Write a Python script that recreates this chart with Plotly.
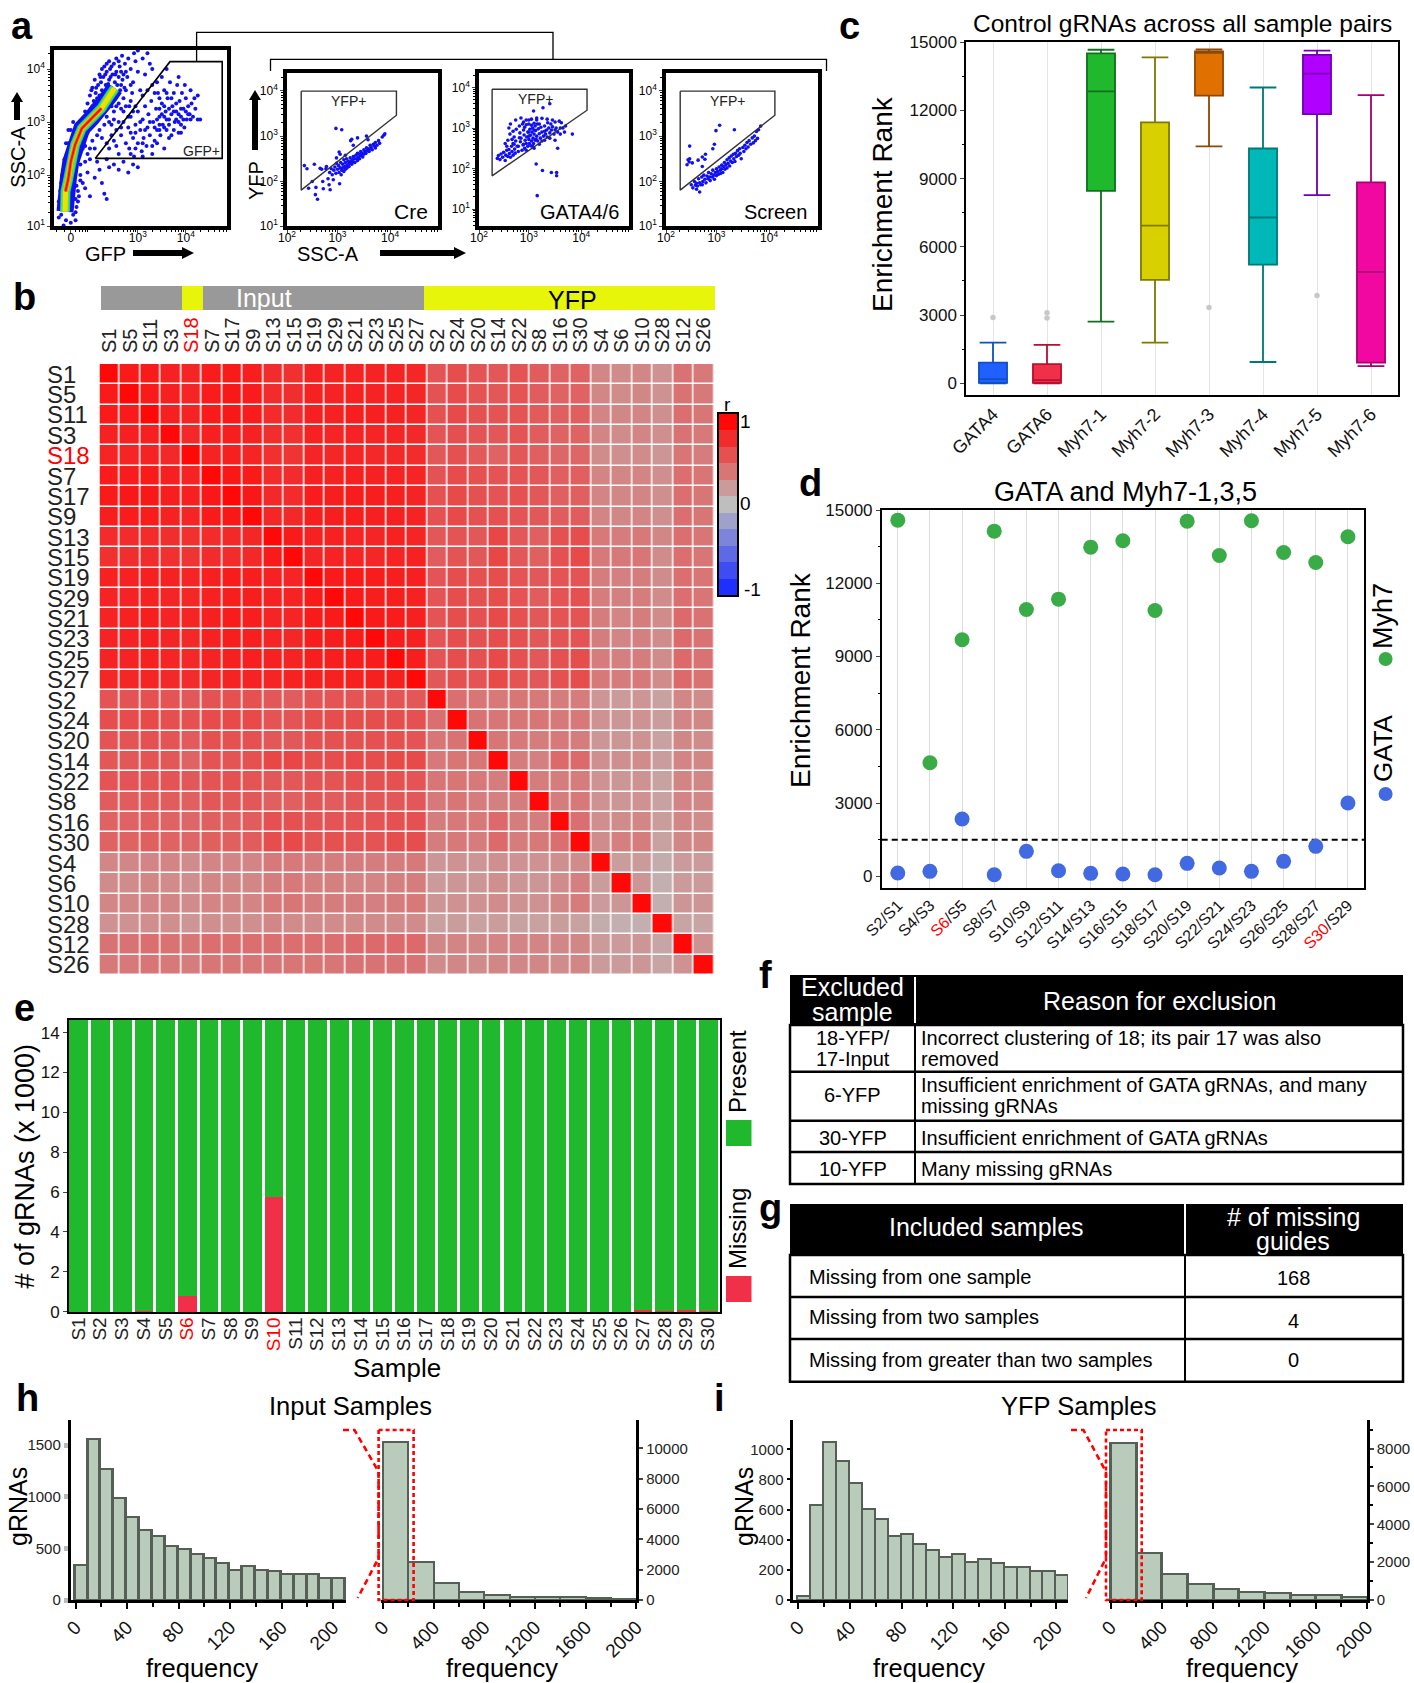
import plotly.graph_objects as go
import math

W, H = 1414, 1683
FONT = "Liberation Sans"

# ---------- panel a : flow gates (axis values are log10) ----------
MAIN_POINTS = [(1.85,3.0),(1.9,3.2),(1.95,3.35),(2.0,3.5),(2.02,3.25),(2.05,3.65),(2.08,3.4),(2.1,3.8),(2.12,3.55),(2.15,3.3),(2.17,3.7),(2.2,3.9),(2.2,3.5),(2.23,3.75),(2.25,4.0),(2.25,3.6),(2.28,3.85),(2.3,4.05),(2.3,3.45),(2.33,3.7),(2.35,3.95),(2.37,3.55),(2.4,4.15),(2.4,3.8),(2.42,4.0),(2.45,3.65),(2.47,3.9),(2.5,4.1),(2.5,3.45),(2.52,3.75),(2.55,4.2),(2.55,3.95),(2.58,3.55),(2.6,3.85),(2.62,4.05),(2.65,3.7),(2.67,4.25),(2.7,3.9),(2.7,3.45),(2.73,4.1),(2.75,3.6),(2.78,3.85),(2.8,4.2),(2.82,3.3),(2.85,4.0),(2.88,3.55),(2.9,3.75),(2.92,4.3),(2.95,4.15),(3.0,3.95),(3.0,4.35),(3.05,3.6),(3.1,4.2),(3.2,4.3),(3.25,4.1),(3.3,4.0),(3.15,3.9),
(2.03,3.6),(2.13,3.65),(2.18,3.42),(2.22,3.85),(2.27,3.5),(2.32,3.9),(2.38,3.72),(2.43,3.85),(2.48,3.6),(2.53,3.9),(2.57,3.7),(2.63,3.6),(2.68,3.8),(2.72,3.65),(2.6,4.15),(2.35,4.1),(2.45,4.05),(2.75,3.95),(2.85,3.7),(2.65,3.95),
(2.6,2.4),(2.65,2.75),(2.7,3.0),(2.75,2.6),(2.8,2.9),(2.82,2.5),(2.85,3.1),(2.9,2.7),(2.92,2.35),(2.95,2.95),(3.0,2.6),(3.0,3.2),(3.05,2.85),(3.08,2.45),(3.1,3.05),(3.12,2.7),(3.15,3.3),(3.18,2.55),(3.2,2.9),(3.22,3.15),(3.25,2.75),(3.28,3.4),(3.3,2.4),(3.32,3.0),(3.35,2.65),(3.38,3.25),(3.4,2.85),(3.42,3.55),(3.45,3.1),(3.47,2.75),(3.5,3.35),(3.52,2.95),(3.55,3.6),(3.55,2.5),(3.58,3.2),(3.6,2.85),(3.62,3.45),(3.65,3.05),(3.67,3.75),(3.7,2.75),(3.72,3.3),(3.75,3.55),(3.77,3.0),(3.8,3.2),(3.82,3.7),(3.85,2.8),(3.87,3.4),(3.9,3.1),(3.92,3.55),(3.95,3.25),(3.97,2.9),(4.0,3.45),(4.02,3.05),(4.05,3.3),(4.08,3.15),(4.1,3.6),(4.12,3.35),(4.15,3.1),(4.18,3.45),(4.2,3.25),(4.25,3.5),(4.3,3.05),(4.25,3.05),(3.6,4.0),(3.85,3.85),(3.98,3.7),
(3.4,3.05),(3.5,3.15),(3.6,3.05),(3.7,3.15),(3.8,3.05),(3.9,2.95),(3.55,2.9),(3.65,2.95),(3.75,2.85),(3.85,3.15),(3.95,3.05),(3.45,2.95),
(2.35,2.3),(2.4,2.15),(2.5,2.2),(2.6,2.1),(2.7,2.25),(2.8,2.05),(2.9,2.2),(3.0,2.15),(3.1,2.35),(2.2,2.1),(2.15,2.25),(2.1,1.95),(2.25,1.85),(2.3,1.65),(2.35,1.55),(2.0,2.3),(1.95,2.05),(1.85,1.85),(1.9,1.75),(2.0,1.6),
(1.35,1.2),(1.4,1.45),(1.38,1.7),(1.42,2.0),(1.47,2.3),(1.5,2.6),(1.55,2.85),(1.45,1.05),(1.6,1.1),(1.7,1.15),(1.75,1.5),(1.72,1.8),(1.8,2.2),(1.85,2.5),(1.75,2.9),(1.65,3.0),(1.7,1.3),(1.6,1.55),
(1.95,3.1),(2.0,3.2),(2.05,3.3),(2.1,3.2),(2.15,3.45),(2.2,3.25),(2.25,3.35),(2.3,3.3),(2.35,3.4),(2.4,3.35),(2.45,3.3),(2.5,3.2),(2.55,3.3),(2.6,3.35),(2.65,3.25),(2.7,3.2),(2.75,3.3),(2.8,3.1),(2.85,3.4),(2.9,3.2),(2.95,3.3),(2.35,3.1),(2.4,3.0),(2.45,2.95),(2.5,3.05),(2.55,2.85),(2.6,3.0),(2.65,2.9),(2.3,2.95),(2.2,2.85),(2.15,2.75),(2.05,2.65),(2.0,2.5),(1.95,2.4),(2.25,2.7),(2.35,2.6),(2.4,2.5),(2.5,2.65),(2.55,2.55),(2.45,2.75),(2.1,2.5),(1.9,2.25),(1.8,2.0),(1.75,1.7),(1.7,1.55),(1.9,2.55),(1.95,2.8),(1.85,2.75),(1.6,2.85),(1.55,2.6),(1.45,2.1),(1.4,1.85),(1.35,1.5),(1.4,1.25),(1.5,1.15),(1.65,1.25),(1.72,1.4),(1.77,1.6),(1.8,1.9),
(3.1,3.5),(3.2,3.6),(3.3,3.7),(3.35,3.55),(3.4,3.75),(3.5,3.85),(3.45,3.45),(3.55,3.3),(3.6,3.55),(3.7,3.45),(3.8,3.35),(3.9,3.25),(4.0,3.2),(4.05,3.15),(4.1,3.05),(3.85,3.0),(3.75,3.2),(3.65,3.25),(3.55,3.1),(3.45,3.25),(3.25,3.0),(3.15,2.85),(3.05,3.0),(2.95,2.8),(2.85,2.8),(3.35,2.9),(3.45,2.85),(3.65,2.7),(3.9,2.8),(3.3,2.55),(3.4,2.6),(2.95,2.5),(2.85,2.4),(3.1,2.6)]
RIDGE_U = [1.48, 1.49, 1.55, 1.60, 1.69, 1.83, 2.03, 2.24, 2.42, 2.52]
RIDGE_V = [1.31, 1.69, 1.94, 2.25, 2.57, 2.88, 3.07, 3.26, 3.51, 3.64]
CORE_U = [1.49, 1.55, 1.60, 1.69, 1.83, 2.03, 2.24]
CORE_V = [1.69, 1.94, 2.25, 2.57, 2.88, 3.07, 3.26]
MAIN_GATE_U = [2.11, 3.67, 4.76, 4.76, 2.11]
MAIN_GATE_V = [2.315, 4.14, 4.14, 2.315, 2.315]

CRE_POINTS = [(2.97,3.17),(3.08,3.14),(2.37,2.35),(2.42,2.28),(2.56,2.38),(2.67,2.29),(2.70,2.27),(2.78,2.28),(2.79,2.33),(2.52,2.0),(2.45,1.85),(2.58,1.71),(2.62,1.61),(2.59,1.87),(2.73,1.84),(2.86,1.82),(2.72,2.0),(2.82,2.06),(2.84,1.93),(2.92,2.04),(3.04,1.95),
(2.85,2.20),(2.88,2.28),(2.90,2.15),(2.93,2.25),(2.95,2.32),(2.97,2.18),(2.98,2.40),(3.00,2.27),(3.02,2.35),(3.03,2.20),(3.05,2.30),(3.06,2.42),(3.07,2.15),(3.08,2.25),(3.10,2.38),(3.10,2.30),(3.12,2.48),(3.12,2.22),(3.14,2.33),(3.15,2.42),(3.15,2.27),(3.17,2.50),(3.18,2.36),(3.18,2.30),(3.20,2.45),(3.22,2.40),(3.22,2.33),(3.24,2.52),(3.25,2.44),(3.27,2.38),(3.28,2.48),(3.30,2.55),(3.30,2.43),(3.32,2.50),(3.33,2.42),(3.35,2.58),(3.36,2.50),(3.38,2.46),(3.38,2.62),(3.40,2.54),(3.42,2.60),(3.42,2.50),(3.44,2.66),(3.45,2.57),(3.47,2.62),(3.48,2.54),(3.50,2.70),(3.50,2.60),(3.52,2.66),(3.54,2.62),(3.55,2.74),(3.56,2.68),(3.58,2.72),(3.60,2.66),(3.62,2.80),(3.62,2.72),(3.64,2.76),(3.66,2.70),(3.68,2.82),(3.70,2.78),(3.72,2.86),(3.72,2.74),(3.75,2.80),(3.78,2.90),(3.80,2.84),(3.85,2.98),(3.88,3.02),(3.90,3.05),(3.55,3.0),(3.58,2.92),(3.25,2.9),(3.27,2.93),(3.38,2.96),(3.3,2.8),(3.03,2.65),(3.05,2.6),(3.15,2.58),(2.98,2.52)]
CRE_GATE_X = [2.31, 4.12, 4.12, 2.31, 2.31]
CRE_GATE_Y = [3.99, 3.99, 3.46, 1.81, 3.99]

GATA_POINTS = [(2.40,2.25),(2.42,2.32),(2.45,2.22),(2.47,2.36),(2.50,2.28),(2.52,2.40),(2.55,2.2),(2.56,2.33),(2.58,2.45),(2.60,2.30),(2.62,2.47),(2.63,2.37),(2.65,2.28),(2.67,2.55),(2.68,2.42),(2.70,2.33),(2.72,2.60),(2.73,2.48),(2.74,2.38),(2.65,3.1),(2.62,3.0),(2.64,2.85),(2.70,2.92),(2.72,2.78),(2.75,2.68),(2.76,2.97),(2.78,2.55),(2.80,2.42),(2.82,3.05),(2.83,2.88),(2.84,2.66),(2.85,2.75),(2.87,2.45),(2.88,3.1),(2.89,2.58),(2.90,2.95),(2.91,2.83),(2.92,2.50),(2.93,2.70),(2.95,3.08),(2.95,2.62),(2.96,2.78),(2.98,2.9),(2.98,2.55),(3.0,3.1),(3.0,2.72),(3.01,2.62),(3.02,2.97),(3.03,2.82),(3.04,2.56),(3.05,3.07),(3.05,2.68),(3.06,2.9),(3.07,3.0),(3.08,2.75),(3.09,3.42),(3.09,2.62),(3.10,2.85),(3.12,3.05),(3.12,2.7),(3.13,2.94),(3.15,2.8),(3.16,3.1),(3.17,2.68),(3.18,2.98),(3.2,2.86),(3.22,2.75),(3.23,3.02),(3.25,2.9),(3.27,3.5),(3.28,2.8),(3.3,3.05),(3.32,2.85),(3.34,2.95),(3.36,3.13),(3.38,3.0),(3.4,2.88),(3.42,3.1),(3.43,2.95),(3.45,3.03),(3.48,2.85),(3.5,3.15),(3.52,3.0),(3.55,2.9),(3.58,3.17),(3.6,3.0),(3.62,3.13),(3.65,3.0),(3.83,2.85),(3.55,2.5),(3.14,2.11),(3.26,1.95),(3.43,1.9),(3.53,1.9),(3.53,1.82),(3.16,1.33),(3.4,3.6),(3.0,2.9),(3.1,2.95),(3.2,3.1),(2.92,3.02),(3.14,2.72),
(2.75,3.2),(2.85,3.25),(2.95,3.2),(3.05,3.22),(3.15,3.2),(3.25,3.24),(3.35,3.22),(3.45,3.2),(2.55,2.62),(2.6,2.7),(2.68,2.72),(2.58,2.55),(2.7,2.62),(2.82,2.76),(2.9,2.6),(3.0,2.8),(3.07,2.55),(3.2,2.6),(3.3,2.7),(3.4,2.75),(3.5,2.7),(3.15,3.25),(3.0,3.2),(2.8,2.55),(2.95,2.45),(3.1,2.5),(3.25,2.68),(3.35,2.78),(3.6,2.85),(3.68,2.9),(3.7,3.05),(3.5,2.95),(3.3,2.92),(3.1,3.12),(2.9,3.15)]
GATA_GATE_X = [2.30, 4.11, 4.11, 2.30, 2.30]
GATA_GATE_Y = [3.96, 3.96, 3.44, 1.82, 3.96]

SCREEN_POINTS = [(3.06,3.24),(2.99,3.12),(3.34,3.14),(2.96,2.82),(2.93,2.72),(2.49,2.78),(2.46,2.48),(2.49,2.5),(2.44,2.37),(2.48,2.43),(2.54,2.41),(2.65,2.47),(2.73,2.54),(2.79,2.6),(2.78,2.49),(2.73,2.33),(2.62,1.83),(2.68,1.77),(2.73,1.93),
(2.52,1.93),(2.55,1.86),(2.58,2.0),(2.60,1.92),(2.62,1.96),(2.64,1.9),(2.66,2.06),(2.68,1.97),(2.70,1.93),(2.72,2.1),(2.74,2.0),(2.76,2.14),(2.78,2.05),(2.80,1.97),(2.82,2.12),(2.84,2.06),(2.85,2.2),(2.87,2.1),(2.88,2.02),(2.9,2.17),(2.92,2.1),(2.93,2.25),(2.95,2.14),(2.96,2.05),(2.98,2.2),(3.0,2.28),(3.0,2.13),(3.02,2.22),(3.04,2.16),(3.05,2.32),(3.07,2.25),(3.08,2.18),(3.1,2.36),(3.1,2.28),(3.12,2.2),(3.14,2.33),(3.15,2.42),(3.16,2.27),(3.18,2.37),(3.2,2.3),(3.2,2.48),(3.22,2.4),(3.24,2.52),(3.25,2.34),(3.27,2.45),(3.28,2.56),(3.3,2.42),(3.32,2.6),(3.33,2.5),(3.35,2.44),(3.36,2.62),(3.38,2.55),(3.4,2.68),(3.42,2.58),(3.44,2.72),(3.45,2.62),(3.47,2.5),(3.5,2.75),(3.52,2.66),(3.54,2.8),(3.56,2.72),(3.58,2.86),(3.6,2.76),(3.62,2.9),(3.65,2.82),(3.68,2.96),(3.7,2.85),(3.72,3.0),(3.74,2.9),(3.76,3.1),(3.8,3.14),(3.84,3.22),(3.78,2.95)]
SCREEN_GATE_X = [2.31, 4.11, 4.11, 2.31, 2.31]
SCREEN_GATE_Y = [3.99, 3.99, 3.46, 1.81, 3.99]

# ---------- panel b ----------
HEAT_LABELS = ["S1","S5","S11","S3","S18","S7","S17","S9","S13","S15","S19","S29","S21","S23","S25","S27","S2","S24","S20","S14","S22","S8","S16","S30","S4","S6","S10","S28","S12","S26"]
HEAT_Z = [
[1.0,.90,.90,.86,.84,.89,.90,.88,.80,.78,.86,.85,.85,.85,.85,.83,.58,.62,.58,.56,.58,.54,.50,.50,.30,.28,.30,.24,.42,.38],
[.90,1.0,.90,.87,.84,.89,.91,.89,.80,.79,.86,.85,.86,.85,.85,.83,.59,.63,.58,.56,.58,.54,.50,.50,.30,.28,.30,.24,.42,.38],
[.90,.90,1.0,.87,.85,.90,.91,.89,.81,.80,.87,.86,.88,.87,.86,.84,.60,.64,.60,.58,.58,.55,.52,.52,.32,.30,.32,.26,.44,.40],
[.86,.87,.87,1.0,.82,.87,.88,.86,.79,.78,.86,.84,.85,.84,.84,.82,.58,.61,.58,.56,.58,.54,.50,.50,.32,.28,.32,.26,.42,.38],
[.84,.84,.85,.82,1.0,.85,.87,.84,.78,.76,.84,.83,.84,.82,.82,.80,.56,.60,.55,.50,.56,.52,.48,.48,.28,.26,.28,.22,.40,.36],
[.89,.89,.90,.87,.85,1.0,.92,.90,.81,.80,.87,.86,.87,.86,.85,.84,.59,.63,.60,.58,.58,.56,.52,.52,.32,.30,.32,.26,.44,.40],
[.90,.91,.91,.88,.87,.92,1.0,.91,.82,.81,.89,.88,.89,.88,.87,.85,.60,.64,.60,.58,.60,.56,.52,.52,.32,.30,.32,.26,.44,.40],
[.88,.89,.89,.86,.84,.90,.91,1.0,.83,.82,.88,.88,.88,.87,.87,.85,.60,.64,.60,.60,.58,.56,.54,.54,.32,.30,.32,.26,.44,.40],
[.80,.80,.81,.79,.78,.81,.82,.83,1.0,.90,.86,.86,.84,.84,.86,.84,.56,.58,.56,.66,.56,.52,.60,.62,.38,.36,.38,.30,.44,.40],
[.78,.79,.80,.78,.76,.80,.81,.82,.90,1.0,.84,.85,.84,.83,.85,.86,.54,.58,.56,.66,.56,.52,.60,.64,.38,.38,.40,.28,.44,.40],
[.86,.86,.87,.86,.84,.87,.89,.88,.86,.84,1.0,.90,.90,.89,.88,.87,.58,.62,.60,.62,.58,.56,.58,.58,.36,.34,.36,.28,.44,.40],
[.85,.85,.86,.84,.83,.86,.88,.88,.86,.85,.90,1.0,.90,.88,.88,.86,.58,.62,.60,.62,.58,.54,.58,.60,.36,.34,.36,.28,.44,.40],
[.85,.86,.88,.85,.84,.87,.89,.88,.84,.84,.90,.90,1.0,.90,.89,.87,.58,.62,.60,.64,.60,.56,.58,.58,.36,.32,.36,.28,.46,.42],
[.85,.85,.87,.84,.82,.86,.88,.87,.84,.83,.89,.88,.90,1.0,.89,.87,.58,.62,.60,.62,.60,.56,.58,.58,.36,.32,.34,.28,.46,.42],
[.85,.85,.86,.84,.82,.85,.87,.87,.86,.85,.88,.88,.89,.89,1.0,.88,.58,.62,.60,.64,.60,.56,.60,.62,.36,.34,.36,.28,.46,.42],
[.83,.83,.84,.82,.80,.84,.85,.85,.84,.86,.87,.86,.87,.87,.88,1.0,.56,.60,.58,.64,.58,.56,.60,.62,.38,.36,.38,.28,.46,.42],
[.58,.59,.60,.58,.56,.59,.60,.60,.56,.54,.58,.58,.58,.58,.58,.56,1.0,.44,.40,.38,.40,.38,.36,.36,.22,.20,.22,.16,.30,.28],
[.62,.63,.64,.61,.60,.63,.64,.64,.58,.58,.62,.62,.62,.62,.62,.60,.44,1.0,.42,.40,.40,.40,.38,.38,.24,.22,.24,.18,.32,.30],
[.58,.58,.60,.58,.55,.60,.60,.60,.56,.56,.60,.60,.60,.60,.60,.58,.40,.42,1.0,.40,.38,.36,.38,.36,.22,.22,.24,.16,.30,.28],
[.56,.56,.58,.56,.50,.58,.58,.60,.66,.66,.62,.62,.64,.62,.64,.64,.38,.40,.40,1.0,.36,.34,.46,.46,.26,.26,.28,.18,.32,.30],
[.58,.58,.58,.58,.56,.58,.60,.58,.56,.56,.58,.58,.60,.60,.60,.58,.40,.40,.38,.36,1.0,.36,.36,.36,.24,.22,.24,.16,.32,.30],
[.54,.54,.55,.54,.52,.56,.56,.56,.52,.52,.56,.54,.56,.56,.56,.56,.38,.40,.36,.34,.36,1.0,.36,.38,.24,.22,.24,.16,.32,.30],
[.50,.50,.52,.50,.48,.52,.52,.54,.60,.60,.58,.58,.58,.58,.60,.60,.36,.38,.38,.46,.36,.36,1.0,.44,.26,.28,.30,.18,.30,.28],
[.50,.50,.52,.50,.48,.52,.52,.54,.62,.64,.58,.60,.58,.58,.62,.62,.36,.38,.36,.46,.36,.38,.44,1.0,.28,.34,.36,.16,.30,.30],
[.30,.30,.32,.32,.28,.32,.32,.32,.38,.38,.36,.36,.36,.36,.36,.38,.22,.24,.22,.26,.24,.24,.26,.28,1.0,.18,.20,.10,.20,.20],
[.28,.28,.30,.28,.26,.30,.30,.30,.36,.38,.34,.34,.32,.32,.34,.36,.20,.22,.22,.26,.22,.22,.28,.34,.18,1.0,.22,.08,.20,.20],
[.30,.30,.32,.32,.28,.32,.32,.32,.38,.40,.36,.36,.36,.34,.36,.38,.22,.24,.24,.28,.24,.24,.30,.36,.20,.22,1.0,.08,.22,.22],
[.24,.24,.26,.26,.22,.26,.26,.26,.30,.28,.28,.28,.28,.28,.28,.28,.16,.18,.16,.18,.16,.16,.18,.16,.10,.08,.08,1.0,.14,.14],
[.42,.42,.44,.42,.40,.44,.44,.44,.44,.44,.44,.44,.46,.46,.46,.46,.30,.32,.30,.32,.32,.32,.30,.30,.20,.20,.22,.14,1.0,.24],
[.38,.38,.40,.38,.36,.40,.40,.40,.40,.40,.40,.40,.42,.42,.42,.42,.28,.30,.28,.30,.30,.30,.28,.30,.20,.20,.22,.14,.24,1.0],
]
SCALE_STEPS = [1, .8, .6, .4, .2, 0, -.2, -.4, -.6, -.8, -1]
HEAT_COLORS = [[0, "#1E30FF"], [.5, "#BEBEBE"], [1, "#FF0808"]]

# ---------- panel c ----------
GUIDES = ["GATA4", "GATA6", "Myh7-1", "Myh7-2", "Myh7-3", "Myh7-4", "Myh7-5", "Myh7-6"]
BOX_Q1 = [20, 20, 8460, 4545, 12640, 5220, 11830, 910]
BOX_MED = [190, 147, 12830, 6935, 14520, 7290, 13610, 4900]
BOX_Q3 = [909, 850, 14500, 11470, 14590, 10320, 14430, 8830]
BOX_LOW = [0, 0, 2710, 1790, 10410, 940, 8270, 760]
BOX_UP = [1790, 1690, 14660, 14325, 14680, 13000, 14620, 12670]
BOX_FILL = ["#2060FF", "#F03048", "#20B82C", "#D8D000", "#E07000", "#00B8B8", "#B000FF", "#F008A0"]
BOX_LINE = ["#1050C0", "#B81030", "#107020", "#807800", "#904800", "#007878", "#7000B0", "#A80070"]
OUTLIER_X = [0, 1, 1, 4, 6]
OUTLIER_Y = [2900, 3100, 2870, 3330, 3860]

# ---------- panel d ----------
PAIRS = ["S2/S1", "S4/S3", '<span style="color:red">S6</span>/S5', "S8/S7", "S10/S9", "S12/S11", "S14/S13", "S16/S15", "S18/S17", "S20/S19", "S22/S21", "S24/S23", "S26/S25", "S28/S27", '<span style="color:red">S30</span>/S29']
MYH7_RANK = [14584, 4652, 9686, 14134, 10928, 11350, 13479, 13738, 10887, 14543, 13138, 14557, 13261, 12851, 13902]
GATA_RANK = [136, 205, 2347, 68, 1023, 232, 123, 95, 68, 532, 341, 205, 614, 1228, 3001]
RANK_CUTOFF = 1500

# ---------- panel e ----------
SAMPLES = ["S1","S2","S3","S4","S5","S6","S7","S8","S9","S10","S11","S12","S13","S14","S15","S16","S17","S18","S19","S20","S21","S22","S23","S24","S25","S26","S27","S28","S29","S30"]
MISSING = [0, 0, 0, .02, 0, .78, 0, 0, 0, 5.75, 0, 0, 0, 0, 0, 0, 0, 0, 0, 0, 0, 0, 0, 0, 0, 0, .08, .03, .08, .03]
PRESENT = [14.63, 14.63, 14.63, 14.61, 14.63, 13.85, 14.63, 14.63, 14.63, 8.88, 14.63, 14.63, 14.63, 14.63, 14.63, 14.63, 14.63, 14.63, 14.63, 14.63, 14.63, 14.63, 14.63, 14.63, 14.63, 14.63, 14.55, 14.6, 14.55, 14.6]

# ---------- panels h, i ----------
LOW_BINS_INPUT = [4, 14, 24, 34, 44, 54, 64, 74, 84, 94, 104, 114, 124, 134, 144, 154, 164, 174, 184, 194, 204]
INPUT_LOW = [342, 1555, 1265, 987, 803, 677, 616, 523, 494, 448, 403, 355, 290, 329, 294, 281, 252, 252, 252, 216, 216]
HIGH_BINS = [100, 300, 500, 700, 900, 1100, 1300, 1500, 1700, 1900]
INPUT_HIGH = [10396, 2484, 1143, 527, 330, 198, 198, 198, 110, 88]
LOW_BINS_YFP = [4.5, 14.5, 24.5, 34.5, 44.5, 54.5, 64.5, 74.5, 84.5, 94.5, 104.5, 114.5, 124.5, 134.5, 144.5, 154.5, 164.5, 174.5, 184.5, 194.5, 204.5]
YFP_LOW = [29, 632, 1046, 921, 775, 601, 537, 425, 436, 370, 330, 286, 308, 255, 269, 244, 216, 216, 194, 194, 163]
YFP_HIGH = [8298, 2491, 1351, 860, 579, 439, 351, 281, 263, 175]

TABLE_F = [("18-YFP/", "17-Input"), ("6-YFP",), ("30-YFP",), ("10-YFP",)]
REASONS = [("Incorrect clustering of 18; its pair 17 was also", "removed"), ("Insufficient enrichment of GATA gRNAs, and many", "missing gRNAs"), ("Insufficient enrichment of GATA gRNAs",), ("Many missing gRNAs",)]
TABLE_G = ["Missing from one sample", "Missing from two samples", "Missing from greater than two samples"]
TABLE_G_N = ["168", "4", "0"]

# ---------- helpers ----------
fig = go.Figure()
layout = {}
shapes = []
annots = []
axis_n = [0]


def px(x):
    return x / W


def py(y):
    return 1 - y / H


def new_axes(l, t, r, b, xa, ya):
    axis_n[0] += 1
    n = axis_n[0]
    s = "" if n == 1 else str(n)
    xa = dict(xa, domain=[px(l), px(r)], anchor="y" + s, automargin=False)
    ya = dict(ya, domain=[py(b), py(t)], anchor="x" + s, automargin=False)
    xa.setdefault("showgrid", False)
    ya.setdefault("showgrid", False)
    xa.setdefault("zeroline", False)
    ya.setdefault("zeroline", False)
    layout["xaxis" + s] = xa
    layout["yaxis" + s] = ya
    return "x" + s, "y" + s


def txt(x, y, t, size, color="black", angle=0, anchor="center", bold=False):
    if bold:
        t = "<b>%s</b>" % t
    annots.append(dict(x=px(x), y=py(y), xref="paper", yref="paper", text=t, showarrow=False,
                       font=dict(size=size, color=color, family=FONT), textangle=angle,
                       xanchor=anchor, yanchor="middle", borderpad=0, borderwidth=0))


def rect(l, t, r, b, fill=None, line=None, lw=0):
    shapes.append(dict(type="rect", xref="paper", yref="paper", x0=px(l), x1=px(r), y0=py(b), y1=py(t),
                       fillcolor=fill or "rgba(0,0,0,0)", line=dict(color=line or "rgba(0,0,0,0)", width=lw)))


def poly(pts, color="black", lw=1.5, dash="solid", fill=None):
    p = "M " + " L ".join("%f %f" % (px(a), py(b)) for a, b in pts)
    if fill:
        p += " Z"
    shapes.append(dict(type="path", xref="paper", yref="paper", path=p,
                       fillcolor=fill or "rgba(0,0,0,0)", line=dict(color=color, width=lw, dash=dash)))


def arrow_right(x0, x1, y):
    poly([(x0, y - 3), (x1 - 12, y - 3), (x1 - 12, y - 6), (x1, y), (x1 - 12, y + 6), (x1 - 12, y + 3), (x0, y + 3)], lw=0, fill="black")


def arrow_up(x, y0, y1):
    poly([(x - 3, y0), (x - 3, y1 + 10), (x - 6, y1 + 10), (x, y1), (x + 6, y1 + 10), (x + 3, y1 + 10), (x + 3, y0)], lw=0, fill="black")


def unzip(points):
    return [p[0] for p in points], [p[1] for p in points]


LOG_MINOR = [d + math.log10(k) for d in range(0, 6) for k in range(2, 10)]
SUP = {1: "10<sup>1</sup>", 2: "10<sup>2</sup>", 3: "10<sup>3</sup>", 4: "10<sup>4</sup>"}


def flow_axes(l, t, r, b, xrange, yrange, xticks, xtext):
    common = dict(showline=True, linecolor="black", linewidth=3.5, mirror=True, ticks="outside", ticklen=3,
                  tickwidth=1, tickfont=dict(size=12, family=FONT, color="black"))
    # the 10^1 tick sits on the lower edge of the gate plots
    y_ticks = [max(1, yrange[0]), 2, 3, 4]
    return new_axes(l, t, r, b,
                    dict(common, range=xrange, tickmode="array", tickvals=xticks, ticktext=xtext, ticklabelstandoff=-5,
                         minor=dict(tickvals=LOG_MINOR, ticks="outside", ticklen=2, tickcolor="black")),
                    dict(common, range=yrange, tickmode="array", tickvals=y_ticks, ticktext=[SUP[i] for i in (1, 2, 3, 4)],
                         minor=dict(tickvals=LOG_MINOR, ticks="outside", ticklen=2, tickcolor="black")))


def flow_points(xa, ya, pts, gx, gy):
    x, y = unzip(pts)
    fig.add_trace(go.Scatter(x=x, y=y, xaxis=xa, yaxis=ya, mode="markers",
                             marker=dict(color="#1010F0", size=3.6, line=dict(width=0)), showlegend=False))
    fig.add_trace(go.Scatter(x=gx, y=gy, xaxis=xa, yaxis=ya, mode="lines",
                             line=dict(color="#333333", width=1.4), showlegend=False))


# ---------- a ----------
xa, ya = flow_axes(54, 50, 227, 226, [1.25, 4.86], [1.04, 4.36], [1.6, 3, 4], ["0", SUP[3], SUP[4]])
mx, my = unzip(MAIN_POINTS)
fig.add_trace(go.Scatter(x=RIDGE_U, y=RIDGE_V, xaxis=xa, yaxis=ya, mode="lines", line=dict(color="#1010F0", width=17), showlegend=False))
fig.add_trace(go.Scatter(x=mx, y=my, xaxis=xa, yaxis=ya, mode="markers", marker=dict(color="#1010F0", size=4, line=dict(width=0)), showlegend=False))
for c, w, ux, vy in (("#10C8A0", 10, RIDGE_U, RIDGE_V), ("#60E040", 8, RIDGE_U, RIDGE_V), ("#F0E000", 5, RIDGE_U, RIDGE_V),
                     ("#F88000", 4, CORE_U, CORE_V), ("#F01000", 2, CORE_U, CORE_V)):
    fig.add_trace(go.Scatter(x=ux, y=vy, xaxis=xa, yaxis=ya, mode="lines", line=dict(color=c, width=w), showlegend=False))
fig.add_trace(go.Scatter(x=MAIN_GATE_U, y=MAIN_GATE_V, xaxis=xa, yaxis=ya, mode="lines", line=dict(color="black", width=1.6), showlegend=False))

xa, ya = flow_axes(287, 73, 438, 226, [2.04, 4.91], [1.02, 4.39], [2.04, 3, 4], [SUP[2], SUP[3], SUP[4]])
flow_points(xa, ya, CRE_POINTS, CRE_GATE_X, CRE_GATE_Y)
xa, ya = flow_axes(479, 73, 629, 226, [2.05, 4.91], [0.58, 4.36], [2.05, 3, 4], [SUP[2], SUP[3], SUP[4]])
flow_points(xa, ya, GATA_POINTS, GATA_GATE_X, GATA_GATE_Y)
xa, ya = flow_axes(666, 73, 817.5, 226, [2.04, 4.92], [1.02, 4.39], [2.04, 3, 4], [SUP[2], SUP[3], SUP[4]])
flow_points(xa, ya, SCREEN_POINTS, SCREEN_GATE_X, SCREEN_GATE_Y)

txt(201.5, 150.7, "GFP+", 14, "#222")
txt(348, 100.7, "YFP+", 14, "#222")
txt(535.6, 99, "YFP+", 14, "#222")
txt(727, 100.7, "YFP+", 14, "#222")
txt(411, 212, "Cre", 21)
txt(579.5, 212, "GATA4/6", 20)
txt(775, 212, "Screen", 20)
txt(17.7, 157, "SSC-A", 20, angle=-90)
txt(105, 254, "GFP", 20)
txt(256, 181, "YFP", 20, angle=-90)
txt(328, 254, "SSC-A", 20)
arrow_up(17, 120, 92)
arrow_up(255, 150, 90)
arrow_right(133, 194, 253)
arrow_right(380, 466, 253)
poly([(196.6, 61.7), (196.6, 32.3), (553, 32.3), (553, 59.3)], lw=1.3)
poly([(270.5, 71), (270.5, 59.3), (826.5, 59.3), (826.5, 71)], lw=1.3)

# ---------- b ----------
rect(101, 286, 182, 310, fill="#999999")
rect(182, 286, 203, 310, fill="#E6F50A")
rect(203, 286, 424, 310, fill="#999999")
rect(424, 286, 715, 310, fill="#E6F50A")
txt(264, 298, "Input", 25, "white")
txt(572, 300, "YFP", 25)
red_lab = ['<span style="color:red">%s</span>' % s if s == "S18" else s for s in HEAT_LABELS]
xa, ya = new_axes(99.5, 364, 714, 975,
                  dict(range=[-.5, 29.5], side="top", tickmode="array", tickvals=list(range(30)), ticktext=red_lab, tickangle=-90,
                       tickfont=dict(size=20, family=FONT, color="#222"), ticks="outside", ticklen=6, tickcolor="white", showline=False),
                  dict(range=[29.5, -.5], showticklabels=False, showline=False))
fig.add_trace(go.Heatmap(z=HEAT_Z, x=list(range(30)), y=list(range(30)), xaxis=xa, yaxis=ya, zmin=-1, zmax=1,
                         colorscale=HEAT_COLORS, showscale=False, xgap=1.5, ygap=1.5))
for i, s in enumerate(HEAT_LABELS):
    txt(47, 364 + 20.37 * (i + .5), s, 24, "red" if s == "S18" else "#222", anchor="left")
xa, ya = new_axes(719, 414, 737, 595,
                  dict(range=[-.5, .5], showticklabels=False, showline=True, mirror=True, linecolor="black", linewidth=1.5),
                  dict(range=[10.5, -.5], showticklabels=False, showline=True, mirror=True, linecolor="black", linewidth=1.5))
fig.add_trace(go.Heatmap(z=[[v] for v in SCALE_STEPS], x=[0], y=list(range(11)), xaxis=xa, yaxis=ya, zmin=-1, zmax=1,
                         colorscale=HEAT_COLORS, showscale=False))
txt(727, 405, "r", 19)
txt(745, 421.5, "1", 19)
txt(745, 503, "0", 19)
txt(752, 589, "-1", 19)

# ---------- c ----------
tick17 = dict(size=17, family=FONT, color="#111")
xa, ya = new_axes(966, 42, 1398, 395,
                  dict(range=[-.5, 7.5], tickmode="array", tickvals=list(range(8)), ticktext=GUIDES, tickangle=-45, tickfont=dict(size=18, family=FONT, color="#111"),
                       showgrid=True, gridcolor="#E4E4E4", gridwidth=1.4, showline=True, mirror=True, linecolor="black", linewidth=1.5, ticks=""),
                  dict(range=[-510, 15000], tick0=0, dtick=3000, tickformat="d", tickfont=tick17, showline=True, mirror=True, linecolor="black", linewidth=1.5,
                       ticks="outside", ticklen=4, minor=dict(dtick=1500, ticks="outside", ticklen=2, tickcolor="black")))
for i in range(8):
    fig.add_trace(go.Box(x=[i], q1=[BOX_Q1[i]], median=[BOX_MED[i]], q3=[BOX_Q3[i]], lowerfence=[BOX_LOW[i]], upperfence=[BOX_UP[i]],
                         width=.52, whiskerwidth=.95, fillcolor=BOX_FILL[i], line=dict(color=BOX_LINE[i], width=1.8), boxpoints=False,
                         xaxis=xa, yaxis=ya, showlegend=False))
fig.add_trace(go.Scatter(x=OUTLIER_X, y=OUTLIER_Y, mode="markers", xaxis=xa, yaxis=ya, marker=dict(color="#C8C8C8", size=5.5), showlegend=False))
txt(1182, 23, "Control gRNAs across all sample pairs", 24.5)
txt(882, 204, "Enrichment Rank", 28, angle=-90)

# ---------- d ----------
xa, ya = new_axes(881.7, 510, 1364, 888,
                  dict(range=[-.5, 14.5], tickmode="array", tickvals=list(range(15)), ticktext=PAIRS, tickangle=-45, tickfont=dict(size=16, family=FONT, color="#111"),
                       showgrid=True, gridcolor="#DDDDDD", gridwidth=1.4, showline=True, mirror=True, linecolor="black", linewidth=1.5, ticks=""),
                  dict(range=[-477, 15000], tick0=0, dtick=3000, tickformat="d", tickfont=tick17, showline=True, mirror=True, linecolor="black", linewidth=1.5,
                       ticks="outside", ticklen=4, minor=dict(dtick=1500, ticks="outside", ticklen=2, tickcolor="black")))
fig.add_trace(go.Scatter(x=[-.5, 14.5], y=[RANK_CUTOFF, RANK_CUTOFF], mode="lines", xaxis=xa, yaxis=ya, line=dict(color="black", width=2, dash="6px,4px"), showlegend=False))
fig.add_trace(go.Scatter(x=list(range(15)), y=MYH7_RANK, mode="markers", xaxis=xa, yaxis=ya, marker=dict(color="#39AC47", size=15), showlegend=False))
fig.add_trace(go.Scatter(x=list(range(15)), y=GATA_RANK, mode="markers", xaxis=xa, yaxis=ya, marker=dict(color="#4169E1", size=15), showlegend=False))
txt(1125, 492, "GATA and Myh7-1,3,5", 27)
txt(801, 680, "Enrichment Rank", 28, angle=-90)
txt(1383, 616, "Myh7", 27, angle=-90)
txt(1383, 748, "GATA", 26, angle=-90)
shapes.append(dict(type="circle", xref="paper", yref="paper", x0=px(1378.6), x1=px(1392.6), y0=py(666), y1=py(652), fillcolor="#39AC47", line=dict(width=0)))
shapes.append(dict(type="circle", xref="paper", yref="paper", x0=px(1378.6), x1=px(1392.6), y0=py(801), y1=py(787), fillcolor="#4169E1", line=dict(width=0)))

# ---------- e ----------
sample_lab = ['<span style="color:red">%s</span>' % s if s in ("S6", "S10") else s for s in SAMPLES]
xa, ya = new_axes(68.8, 1020, 719.5, 1312,
                  dict(range=[-.45, 29.53], tickmode="array", tickvals=list(range(30)), ticktext=sample_lab, tickangle=-90, ticklabelstandoff=-4,
                       tickfont=dict(size=19, family=FONT, color="#222"), showline=True, mirror=True, linecolor="black", linewidth=1.5, ticks=""),
                  dict(range=[-.02, 14.63], tick0=0, dtick=2, tickfont=tick17, showline=True, mirror=True, linecolor="black", linewidth=1.5, ticks="outside", ticklen=4))
fig.add_trace(go.Bar(x=list(range(30)), y=MISSING, width=.86, xaxis=xa, yaxis=ya, marker=dict(color="#F03048", line=dict(width=0)), showlegend=False))
fig.add_trace(go.Bar(x=list(range(30)), y=PRESENT, width=.86, xaxis=xa, yaxis=ya, marker=dict(color="#20B82C", line=dict(width=0)), showlegend=False))
txt(397, 1368, "Sample", 26)
txt(24.5, 1166, "# of gRNAs (x 1000)", 27, angle=-90)
txt(737, 1071, "Present", 24, angle=-90)
txt(737, 1228, "Missing", 24, angle=-90)
rect(726, 1120, 751.5, 1146, fill="#20B82C")
rect(726, 1276, 751.5, 1302, fill="#F03048")

# ---------- f ----------
rect(790, 975, 1403, 1025, fill="black")
shapes.append(dict(type="line", xref="paper", yref="paper", x0=px(915), x1=px(915), y0=py(977), y1=py(1023), line=dict(color="white", width=2)))
rect(790, 1025, 1403, 1184, line="black", lw=2.5)
for yy in (1071.7, 1120.7, 1152):
    shapes.append(dict(type="line", xref="paper", yref="paper", x0=px(790), x1=px(1403), y0=py(yy), y1=py(yy), line=dict(color="black", width=2.5)))
shapes.append(dict(type="line", xref="paper", yref="paper", x0=px(915), x1=px(915), y0=py(1025), y1=py(1184), line=dict(color="black", width=2)))
txt(852, 987, "Excluded", 25, "white")
txt(852, 1012, "sample", 25, "white")
txt(1159, 1001, "Reason for exclusion", 25, "white")
F_Y = [(1038, 1059), (1085, 1105.7), (1137.7,), (1169,)]
for row, col2, ys in zip(TABLE_F, REASONS, F_Y):
    if len(row) == 2:
        txt(852.5, ys[0], row[0], 20)
        txt(852.5, ys[1], row[1], 20)
    else:
        txt(852.5, (ys[0] + ys[-1]) / 2, row[0], 20)
    for t, y in zip(col2, ys):
        txt(921, y, t, 20, anchor="left")

# ---------- g ----------
rect(790, 1204, 1403, 1255, fill="black")
shapes.append(dict(type="line", xref="paper", yref="paper", x0=px(1185), x1=px(1185), y0=py(1204), y1=py(1255), line=dict(color="white", width=2)))
rect(790, 1255, 1403, 1381.7, line="black", lw=2.5)
for yy in (1297, 1339):
    shapes.append(dict(type="line", xref="paper", yref="paper", x0=px(790), x1=px(1403), y0=py(yy), y1=py(yy), line=dict(color="black", width=2.5)))
shapes.append(dict(type="line", xref="paper", yref="paper", x0=px(1185), x1=px(1185), y0=py(1255), y1=py(1381.7), line=dict(color="black", width=2)))
txt(986, 1227, "Included samples", 25, "white")
txt(1293, 1217, "# of missing", 25, "white")
txt(1293, 1241, "guides", 25, "white")
for t, n, y, y2 in zip(TABLE_G, TABLE_G_N, (1277, 1317, 1360), (1278, 1321, 1360)):
    txt(809, y, t, 20, anchor="left")
    txt(1293, y2, n, 20)


# ---------- h, i ----------
def hist_pair(lx0, lx1, lrange, ly_top, lbins, lvals, ldtick, grey, rx0, rx1, rrange, ry_top, rvals, rdtick, rminor):
    black = dict(showline=True, linecolor="black", linewidth=2.5)
    xfont = dict(size=19, family=FONT, color="#111")
    yfont = dict(size=15, family=FONT, color="#222")
    xa, ya = new_axes(lx0, 1420, lx1, 1600,
                      dict(black, range=lrange, tick0=0, dtick=40, tickangle=-45, tickfont=xfont, ticks="outside", ticklen=6, tickwidth=2, tickcolor="black",
                           minor=dict(dtick=20, ticks="outside", ticklen=4, tickwidth=2, tickcolor="black")),
                      dict(black, range=[0, ly_top], tick0=0, dtick=ldtick, tickfont=yfont, ticks="outside",
                           ticklen=4, tickwidth=5 if grey else 2, tickcolor="#BBBBBB" if grey else "black"))
    fig.add_trace(go.Bar(x=lbins, y=lvals, width=10, xaxis=xa, yaxis=ya, showlegend=False,
                         marker=dict(color="#B9CBBB", line=dict(color="#555F55", width=2.4))))
    ry = dict(black, side="right", range=[0, ry_top], tick0=0, dtick=rdtick, tickformat="d", tickfont=yfont, ticks="outside", ticklen=4, tickwidth=2)
    if rminor:
        ry["minor"] = dict(dtick=rminor, ticks="outside", ticklen=3, tickwidth=2, tickcolor="black")
    xa, ya = new_axes(rx0, 1420, rx1, 1600,
                      dict(black, range=rrange, tick0=0, dtick=400, tickangle=-45, tickfont=xfont, ticks="outside", ticklen=6, tickwidth=2, tickcolor="black",
                           minor=dict(dtick=200, ticks="outside", ticklen=4, tickwidth=2, tickcolor="black")),
                      ry)
    fig.add_trace(go.Bar(x=HIGH_BINS, y=rvals, width=200, xaxis=xa, yaxis=ya, showlegend=False,
                         marker=dict(color="#B9CBBB", line=dict(color="#555F55", width=2.4))))


hist_pair(70.5, 346, [-3.9, 210], 1742, LOW_BINS_INPUT, INPUT_LOW, 500, True, 381, 636.4, [-16, 2000], 11868, INPUT_HIGH, 2000, None)
hist_pair(793.4, 1068, [-3.9, 209], 1194, LOW_BINS_YFP, YFP_LOW, 200, False, 1108.5, 1367, [-16, 2000], 9509, YFP_HIGH, 2000, 1000)

txt(350, 1406, "Input Samples", 25.5)
txt(1078, 1406, "YFP Samples", 25.5)
txt(18, 1507, "gRNAs", 25, angle=-90)
txt(744, 1507, "gRNAs", 25, angle=-90)
for x in (202, 502, 929, 1242):
    txt(x, 1668, "frequency", 25.5)
for rx0, rx1, pts in ((378.6, 413.6, [(343, 1430), (354.5, 1430), (378.6, 1471.7), (378.6, 1558), (357.7, 1598)]),
                      (1106, 1141.7, [(1071, 1430), (1083.4, 1430), (1106, 1471.7), (1106, 1558), (1086, 1598)])):
    poly(pts, color="red", lw=2.6, dash="6px,4px")
    poly([(rx0, 1430), (rx1, 1430), (rx1, 1600), (rx0, 1600), (rx0, 1430)], color="red", lw=2.6, dash="4px,3px")

# panel letters
for t, x, y in (("a", 22, 26), ("b", 24, 297), ("c", 849, 26), ("d", 810, 483), ("e", 24, 1008), ("f", 765, 975), ("g", 770, 1208), ("h", 27, 1398), ("i", 719, 1398)):
    txt(x, y, t, 38, bold=True)

fig.update_layout(width=W, height=H, autosize=False, margin=dict(l=0, r=0, t=0, b=0), paper_bgcolor="white", plot_bgcolor="white",
                  barmode="stack", bargap=0, shapes=shapes, annotations=annots, font=dict(family=FONT), **layout)
fig.write_html("out.html", config=dict(displayModeBar=False), post_script="document.body.style.margin='0';document.documentElement.style.overflow='hidden';")
